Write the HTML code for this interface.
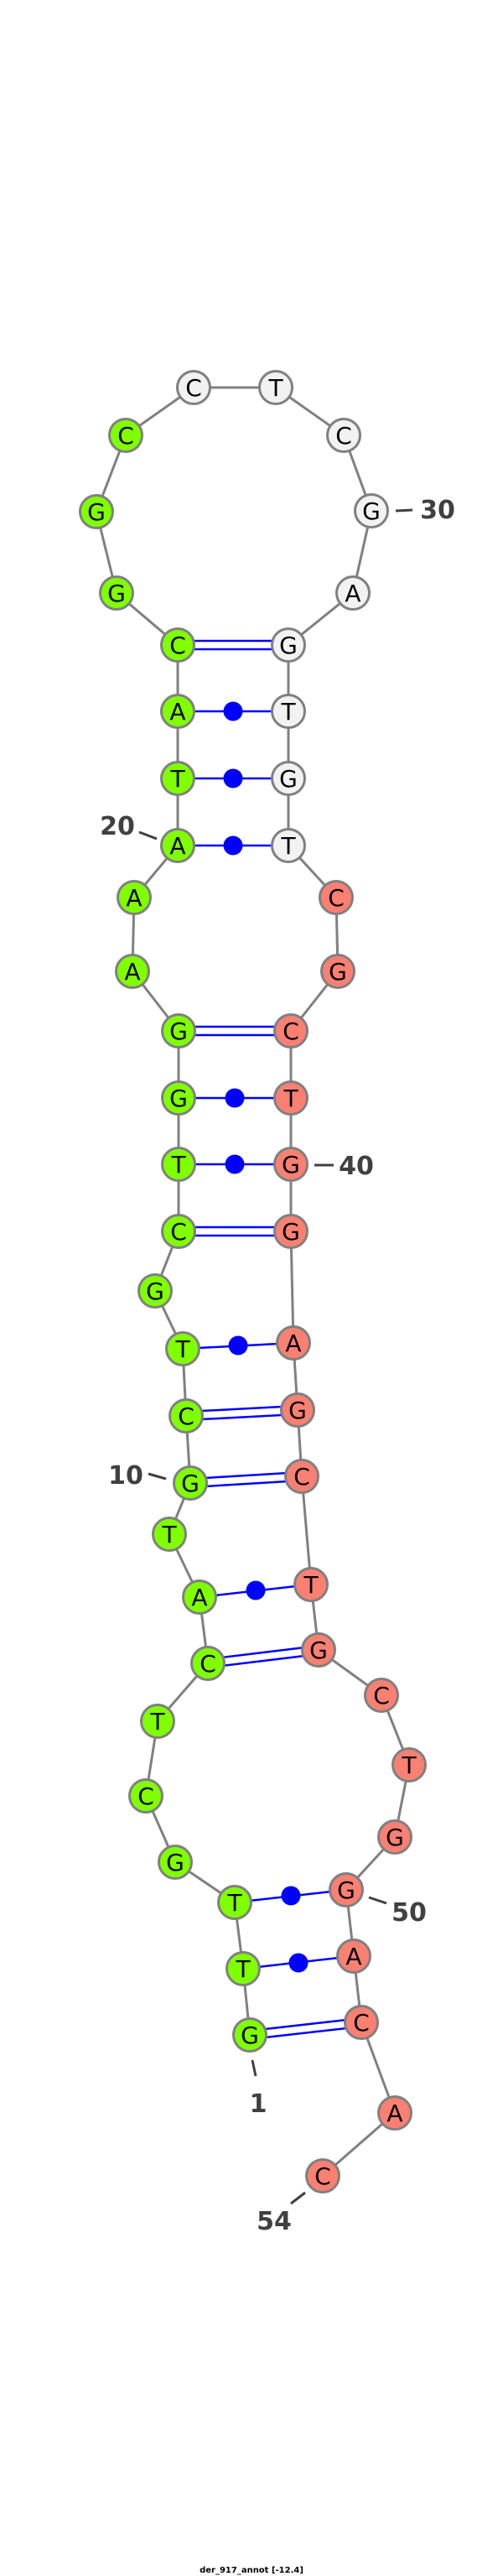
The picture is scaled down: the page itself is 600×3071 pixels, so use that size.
<!DOCTYPE html>
<html><head><meta charset="utf-8"><style>html,body{margin:0;padding:0;background:#fff}svg{display:block}</style></head>
<body>
<svg width="600" height="3071" viewBox="0 0 600 3071" xmlns="http://www.w3.org/2000/svg">
<polyline fill="none" stroke="#808080" stroke-width="3" points="298,2426 290,2347 280,2268 209,2220 174,2141 188,2052 248,1983 238,1904 202,1829 227,1768 222,1688 218,1608 185,1539 213,1468 213,1388 213,1309 213,1229 158,1158 160,1070 212,1008 212,928 212,848 212,769 139,707 115,610 150,519 231,462 329,462 410,519 443,609 421,707 344,769 344,848 344,928 344,1008 401,1070 403,1158 347,1229 347,1309 347,1388 347,1468 350,1601 355,1681 360,1760 371,1889 380,1967 455,2021 488,2104 471,2190 413,2253 422,2332 431,2411 471,2519 385,2594"/>
<g stroke="#0000ff" stroke-width="2.5" fill="none">
<path d="M212,764 L344,764 M212,774 L344,774"/>
<path d="M213,1224 L347,1224 M213,1234 L347,1234"/>
<path d="M213,1463 L347,1463 M213,1473 L347,1473"/>
<path d="M222,1683 L355,1676 M222,1693 L355,1686"/>
<path d="M227,1763 L360,1755 M227,1773 L360,1765"/>
<path d="M248,1978 L380,1962 M248,1988 L380,1972"/>
<path d="M298,2421 L431,2406 M298,2431 L431,2416"/>
<path d="M212,848 L344,848 M212,928 L344,928 M212,1008 L344,1008 M213,1309 L347,1309 M213,1388 L347,1388 M218,1608 L350,1601 M238,1904 L371,1889 M280,2268 L413,2253 M290,2347 L422,2332"/>
</g>
<g fill="#0000ff">
<circle cx="278" cy="848" r="11.5"/><circle cx="278" cy="928" r="11.5"/><circle cx="278" cy="1008" r="11.5"/>
<circle cx="280" cy="1309" r="11.5"/><circle cx="280" cy="1388" r="11.5"/><circle cx="284" cy="1604" r="11.5"/>
<circle cx="305" cy="1896" r="11.5"/><circle cx="347" cy="2260" r="11.5"/><circle cx="356" cy="2340" r="11.5"/>
</g>
<g stroke="#808080" stroke-width="3">
<g fill="#7fff00">
<circle cx="298" cy="2426" r="19.5"/><circle cx="290" cy="2347" r="19.5"/><circle cx="280" cy="2268" r="19.5"/><circle cx="209" cy="2220" r="19.5"/><circle cx="174" cy="2141" r="19.5"/><circle cx="188" cy="2052" r="19.5"/><circle cx="248" cy="1983" r="19.5"/><circle cx="238" cy="1904" r="19.5"/><circle cx="202" cy="1829" r="19.5"/><circle cx="227" cy="1768" r="19.5"/><circle cx="222" cy="1688" r="19.5"/><circle cx="218" cy="1608" r="19.5"/><circle cx="185" cy="1539" r="19.5"/><circle cx="213" cy="1468" r="19.5"/><circle cx="213" cy="1388" r="19.5"/><circle cx="213" cy="1309" r="19.5"/><circle cx="213" cy="1229" r="19.5"/><circle cx="158" cy="1158" r="19.5"/><circle cx="160" cy="1070" r="19.5"/><circle cx="212" cy="1008" r="19.5"/><circle cx="212" cy="928" r="19.5"/><circle cx="212" cy="848" r="19.5"/><circle cx="212" cy="769" r="19.5"/><circle cx="139" cy="707" r="19.5"/><circle cx="115" cy="610" r="19.5"/><circle cx="150" cy="519" r="19.5"/>
</g>
<g fill="#f2f2f2">
<circle cx="231" cy="462" r="19.5"/><circle cx="329" cy="462" r="19.5"/><circle cx="410" cy="519" r="19.5"/><circle cx="443" cy="609" r="19.5"/><circle cx="421" cy="707" r="19.5"/><circle cx="344" cy="769" r="19.5"/><circle cx="344" cy="848" r="19.5"/><circle cx="344" cy="928" r="19.5"/><circle cx="344" cy="1008" r="19.5"/>
</g>
<g fill="#fa8072">
<circle cx="401" cy="1070" r="19.5"/><circle cx="403" cy="1158" r="19.5"/><circle cx="347" cy="1229" r="19.5"/><circle cx="347" cy="1309" r="19.5"/><circle cx="347" cy="1388" r="19.5"/><circle cx="347" cy="1468" r="19.5"/><circle cx="350" cy="1601" r="19.5"/><circle cx="355" cy="1681" r="19.5"/><circle cx="360" cy="1760" r="19.5"/><circle cx="371" cy="1889" r="19.5"/><circle cx="380" cy="1967" r="19.5"/><circle cx="455" cy="2021" r="19.5"/><circle cx="488" cy="2104" r="19.5"/><circle cx="471" cy="2190" r="19.5"/><circle cx="413" cy="2253" r="19.5"/><circle cx="422" cy="2332" r="19.5"/><circle cx="431" cy="2411" r="19.5"/><circle cx="471" cy="2519" r="19.5"/><circle cx="385" cy="2594" r="19.5"/>
</g>
</g>
<g font-family="DejaVu Sans, sans-serif" font-size="28" text-anchor="middle" fill="#000">
<text x="298" y="2436">G</text><text x="290" y="2357">T</text><text x="280" y="2278">T</text><text x="209" y="2230">G</text><text x="174" y="2151">C</text><text x="188" y="2062">T</text><text x="248" y="1993">C</text><text x="238" y="1914">A</text><text x="202" y="1839">T</text><text x="227" y="1778">G</text><text x="222" y="1698">C</text><text x="218" y="1618">T</text><text x="185" y="1549">G</text><text x="213" y="1478">C</text><text x="213" y="1398">T</text><text x="213" y="1319">G</text><text x="213" y="1239">G</text><text x="158" y="1168">A</text><text x="160" y="1080">A</text><text x="212" y="1018">A</text><text x="212" y="938">T</text><text x="212" y="858">A</text><text x="212" y="779">C</text><text x="139" y="717">G</text><text x="115" y="620">G</text><text x="150" y="529">C</text>
<text x="231" y="472">C</text><text x="329" y="472">T</text><text x="410" y="529">C</text><text x="443" y="619">G</text><text x="421" y="717">A</text><text x="344" y="779">G</text><text x="344" y="858">T</text><text x="344" y="938">G</text><text x="344" y="1018">T</text>
<text x="401" y="1080">C</text><text x="403" y="1168">G</text><text x="347" y="1239">C</text><text x="347" y="1319">T</text><text x="347" y="1398">G</text><text x="347" y="1478">G</text><text x="350" y="1611">A</text><text x="355" y="1691">G</text><text x="360" y="1770">C</text><text x="371" y="1899">T</text><text x="380" y="1977">G</text><text x="455" y="2031">C</text><text x="488" y="2114">T</text><text x="471" y="2200">G</text><text x="413" y="2263">G</text><text x="422" y="2342">A</text><text x="431" y="2421">C</text><text x="471" y="2529">A</text><text x="385" y="2604">C</text>
</g>
<g stroke="#404040" stroke-width="3">
<line x1="472" y1="609" x2="492" y2="608"/>
<line x1="166" y1="992" x2="187" y2="1000"/>
<line x1="375" y1="1389" x2="398" y2="1389"/>
<line x1="177" y1="1757" x2="198" y2="1763"/>
<line x1="440" y1="2262" x2="461" y2="2269"/>
<line x1="301" y1="2456" x2="305" y2="2475"/>
<line x1="347" y1="2627" x2="364" y2="2614"/>
</g>
<g font-family="DejaVu Sans, sans-serif" font-size="30" font-weight="bold" fill="#404040" text-anchor="middle">
<text x="522" y="618">30</text>
<text x="140" y="995">20</text>
<text x="425" y="1400">40</text>
<text x="150" y="1769">10</text>
<text x="488" y="2290">50</text>
<text x="308" y="2518">1</text>
<text x="327" y="2658">54</text>
</g>
<text x="300" y="3067" font-family="DejaVu Sans, sans-serif" font-size="10" font-weight="bold" text-anchor="middle" fill="#000">der_917_annot [-12.4]</text>
</svg>
</body></html>
